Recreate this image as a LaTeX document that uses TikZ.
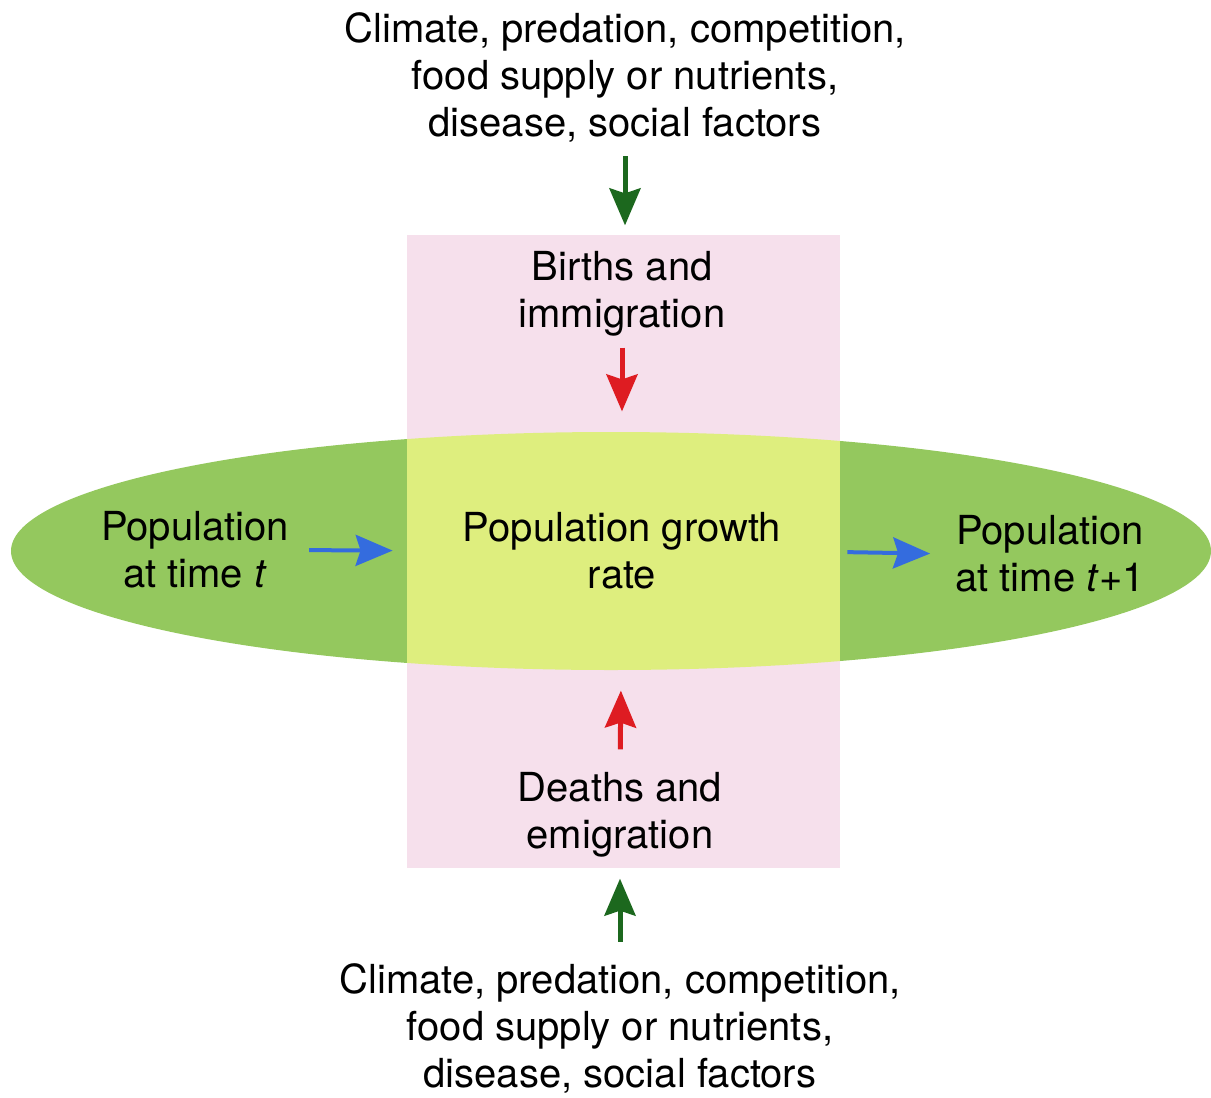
\documentclass[tikz,border=0pt]{standalone}
\usepackage{fontspec}
\setmainfont{TeX Gyre Heros}
\usetikzlibrary{arrows.meta}
\definecolor{poolgreen}{RGB}{148,200,94}
\definecolor{ratepink}{RGB}{246,224,236}
\definecolor{overlapyellow}{RGB}{222,238,126}
\definecolor{factorgreen}{RGB}{28,104,30}
\definecolor{ratered}{RGB}{222,28,34}
\definecolor{timeblue}{RGB}{52,108,222}

\begin{document}
\begin{tikzpicture}[x=1pt,y=-1pt,
  label/.style={align=center,inner sep=0pt,font=\fontsize{40}{47}\selectfont},
  flow/.style={line width=5pt,-{Stealth[length=37pt,width=31pt,inset=5pt]}}]
\def\midX{622}
\def\midY{551}
\useasboundingbox (0,0) rectangle (1211,1098);
% background shapes
\fill[poolgreen] (611,\midY) ellipse [x radius=600, y radius=119];
\fill[ratepink] (407,235) rectangle (840,868);
\begin{scope}
  \clip (611,\midY) ellipse [x radius=600, y radius=119];
  \fill[overlapyellow] (407,235) rectangle (840,868);
\end{scope}
\path
(625,77) node [label] (topfac) {Climate, predation, competition,\\food supply or nutrients,\\disease, social factors}
(\midX,294) node [label] (births) {Births and\\immigration}
(\midX,\midY) node [label] (growth) {Population growth\\rate}
(195,550) node [label] (popt) {Population\\at time \textit{t}}
(1050,554) node [label] (poptone) {Population\\at time \textit{t}+1}
(620,815) node [label] (deaths) {Deaths and\\emigration}
(620,1028) node [label] (botfac) {Climate, predation, competition,\\food supply or nutrients,\\disease, social factors}
;

\begin{scope}[every path/.style={draw,flow}]
\path[factorgreen,shorten <=14pt,shorten >=26pt] (topfac.south) -- (topfac.south |- births.north);
\path[ratered,shorten <=11pt,shorten >=101pt] (births.south) -- (growth.north);
\path[ratered,shorten <=23pt,shorten >=101pt] (deaths.north) -- (growth.south);
\path[factorgreen,shorten <=21pt,shorten >=21pt] (botfac.north) -- (deaths.south);
\path[timeblue,line width=4pt,shorten <=20pt,shorten >=70pt] (popt.east) -- (growth.west);
\path[timeblue,line width=4pt,shorten <=66pt,shorten >=25pt] (growth.east) -- (poptone.west);
\end{scope}
\end{tikzpicture}
\end{document}
